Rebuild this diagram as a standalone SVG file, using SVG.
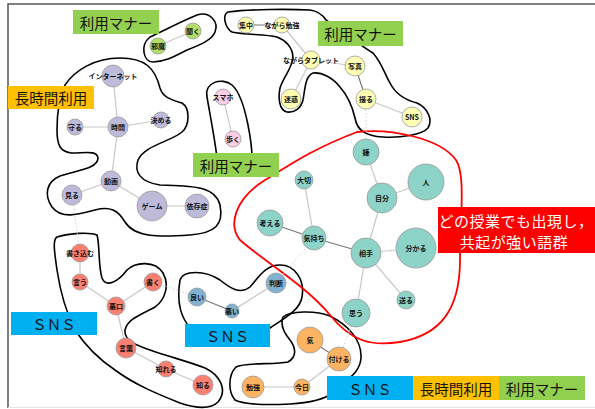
<svg xmlns="http://www.w3.org/2000/svg" width="595" height="409" viewBox="0 0 595 409">
<style>
.bg{fill:#fff}
.frame{stroke:#555;stroke-width:1.5;fill:none}
.outline{fill:none;stroke:#000;stroke-width:1.6}
.red{fill:none;stroke:#f00;stroke-width:1.8}
.e{stroke:#c8c8c8;stroke-width:1.2}
.ed{stroke:#777;stroke-width:1.2}
.dot{stroke:#d0d0d0;stroke-width:1;stroke-dasharray:1.5 2}
circle{stroke:#999;stroke-width:0.8}
.g{fill:#B3DE69}.p{fill:#BEBADA}.y{fill:#FFFFB3}.k{fill:#FCCDE5}.t{fill:#8DD3C7}.r{fill:#FB8072}.b{fill:#80B1D3}.o{fill:#FDB462}
.n{font-family:"Noto Sans CJK JP","Noto Sans",sans-serif;font-size:7px;font-weight:bold;fill:#111;text-anchor:middle;dominant-baseline:central}
.lab{font-family:"Noto Sans CJK JP","Noto Sans",sans-serif;font-size:14.5px;fill:#111;text-anchor:middle;dominant-baseline:central}
.wl{font-family:"Noto Sans CJK JP","Noto Sans",sans-serif;font-size:15px;fill:#fff;text-anchor:middle;dominant-baseline:central;letter-spacing:0.5px}
</style>
<rect class="bg" x="0" y="0" width="595" height="409"/>
<path class="frame" d="M8,408 L8,4 L595,4"/>
<line x1="8" y1="407.5" x2="595" y2="407.5" stroke="#e4e4e4" stroke-width="1"/>

<g id="outlines">
<path class="outline" d="M150,37 C165,30 180,22 197,15 C210,11 219,22 215,32 C212,40 200,45 187,50 C175,56 165,62 153,62 C143,62 140,45 150,37 Z"/>
<path class="outline" d="M65,85 C75,70 95,58 120,58 C145,58 155,68 160,88 C163,98 172,100 182,103 C190,108 190,125 182,132 C170,142 145,145 138,160 C134,172 140,182 160,185 C190,186 215,185 220,205 C224,225 215,233 190,235 C160,237 135,238 125,222 C118,210 110,206 95,210 C80,214 62,220 52,207 C44,195 46,182 60,176 C80,170 98,168 98,158 C97,150 85,153 72,153 C60,152 57,145 57,130 C57,115 58,100 65,85 Z"/>
<path class="outline" d="M228,12 C250,9 290,9 310,10 C318,11 322,14 326,20 C340,30 360,45 373,53 C382,63 385,75 390,83 C395,93 405,100 417,103 C428,108 433,120 428,128 C422,135 400,138 383,137 C365,136 357,130 355,118 C352,105 347,95 340,87 C333,78 322,72 313,73 C305,76 305,90 303,100 C301,108 295,113 287,112 C279,110 278,98 280,88 C283,78 292,68 293,58 C293,47 285,40 277,37 C265,34 245,35 232,32 C225,28 222,15 228,12 Z"/>
<path class="outline" d="M207,97 C204,82 222,77 232,85 C240,92 245,110 248,125 C250,135 252,145 252,158 L217,158 C215,140 211,120 207,97 Z"/>
<path class="outline" d="M57,237 C70,233 90,232 97,235 C100,245 98,265 102,278 C106,288 118,282 127,270 C135,262 155,260 163,273 C170,285 165,300 155,307 C143,314 128,318 125,330 C124,340 135,345 150,350 C170,357 190,362 205,368 C220,375 228,390 218,402 C210,410 195,408 180,403 C160,395 135,385 115,370 C97,358 85,345 75,330 C65,310 60,290 57,270 C55,255 52,240 57,237 Z"/>
<path class="outline" d="M180,280 C183,270 205,270 220,280 C230,288 240,295 250,287 C258,278 265,265 280,265 C295,265 305,280 302,297 C300,310 285,318 270,328 L190,328 C182,318 176,305 180,280 Z"/>
<path class="outline" d="M283,317 C290,311 315,310 330,316 C348,325 362,340 361,358 C360,370 352,376 345,382 L335,392 C325,399 310,403 290,404 C270,405 245,405 235,400 C228,392 228,375 236,367 C245,362 275,365 288,362 C297,357 296,348 290,340 C284,333 280,325 283,317 Z"/>
<path class="red" d="M357,132 C390,128 440,138 456,160 C466,175 460,220 460,260 C460,310 440,335 400,342 C370,347 350,340 330,315 C305,285 265,262 240,240 C228,225 235,200 262,182 C290,165 310,150 357,132 Z"/>
</g>

<g id="connectors">
<line class="dot" x1="72" y1="195" x2="80" y2="253"/>
<line class="dot" x1="153" y1="282" x2="197" y2="297"/>
<line class="dot" x1="314" y1="238" x2="276" y2="283"/>
<line class="dot" x1="356" y1="313" x2="339" y2="359"/>
<line class="dot" x1="366" y1="99" x2="366" y2="152"/>
<line class="e" x1="158" y1="46" x2="193" y2="31"/>
<line class="e" x1="113" y1="76" x2="118" y2="127"/>
<line class="e" x1="75" y1="127" x2="118" y2="127"/>
<line class="e" x1="118" y1="127" x2="161" y2="120"/>
<line class="e" x1="118" y1="127" x2="111" y2="181"/>
<line class="e" x1="111" y1="181" x2="72" y2="195"/>
<line class="e" x1="111" y1="181" x2="152" y2="206"/>
<line class="e" x1="152" y1="206" x2="197" y2="206"/>
<line class="ed" x1="246" y1="25" x2="282" y2="25"/>
<line class="e" x1="282" y1="25" x2="311" y2="60"/>
<line class="e" x1="311" y1="60" x2="291" y2="99"/>
<line class="e" x1="311" y1="60" x2="355" y2="66"/>
<line class="ed" x1="355" y1="66" x2="366" y2="99"/>
<line class="e" x1="366" y1="99" x2="412" y2="117"/>
<line class="e" x1="223" y1="97" x2="233" y2="139"/>
<line class="e" x1="366" y1="152" x2="382" y2="198"/>
<line class="e" x1="382" y1="198" x2="426" y2="182"/>
<line class="e" x1="382" y1="198" x2="366" y2="253"/>
<line class="e" x1="304" y1="180" x2="314" y2="238"/>
<line class="ed" x1="270" y1="223" x2="314" y2="238"/>
<line class="ed" x1="314" y1="238" x2="366" y2="253"/>
<line class="e" x1="366" y1="253" x2="416" y2="248"/>
<line class="e" x1="366" y1="253" x2="406" y2="300"/>
<line class="e" x1="366" y1="253" x2="356" y2="313"/>
<line class="e" x1="80" y1="253" x2="80" y2="282"/>
<line class="e" x1="80" y1="282" x2="116" y2="306"/>
<line class="e" x1="116" y1="306" x2="153" y2="282"/>
<line class="e" x1="116" y1="306" x2="126" y2="348"/>
<line class="e" x1="126" y1="348" x2="166" y2="369"/>
<line class="e" x1="166" y1="369" x2="203" y2="385"/>
<line class="ed" x1="197" y1="297" x2="232" y2="311"/>
<line class="e" x1="232" y1="311" x2="276" y2="283"/>
<line class="ed" x1="310" y1="340" x2="339" y2="359"/>
<line class="e" x1="339" y1="359" x2="302" y2="387"/>
<line class="e" x1="302" y1="387" x2="253" y2="387"/>
</g>

<g id="n-jama"><circle class="g" cx="158" cy="46" r="8"/><text class="n" x="158" y="46">邪魔</text></g>
<g id="n-kiku"><circle class="g" cx="193" cy="31" r="8"/><text class="n" x="193" y="31">聞く</text></g>

<g id="n-internet"><circle class="p" cx="113" cy="76" r="11"/><text class="n" x="113" y="76">インターネット</text></g>
<g id="n-mamoru"><circle class="p" cx="75" cy="127" r="8"/><text class="n" x="75" y="127">守る</text></g>
<g id="n-jikan"><circle class="p" cx="118" cy="127" r="10"/><text class="n" x="118" y="127">時間</text></g>
<g id="n-kimeru"><circle class="p" cx="161" cy="120" r="8"/><text class="n" x="161" y="120">決める</text></g>
<g id="n-douga"><circle class="p" cx="111" cy="181" r="10"/><text class="n" x="111" y="181">動画</text></g>
<g id="n-miru"><circle class="p" cx="72" cy="195" r="10"/><text class="n" x="72" y="195">見る</text></g>
<g id="n-game"><circle class="p" cx="152" cy="206" r="15"/><text class="n" x="152" y="206">ゲーム</text></g>
<g id="n-izon"><circle class="p" cx="197" cy="206" r="12"/><text class="n" x="197" y="206">依存症</text></g>

<g id="n-shuchu"><circle class="y" cx="246" cy="25" r="8"/><text class="n" x="246" y="25">集中</text></g>
<g id="n-nagarabenkyo"><circle class="y" cx="282" cy="25" r="8"/><text class="n" x="282" y="25">ながら勉強</text></g>
<g id="n-nagaratablet"><circle class="y" cx="311" cy="60" r="9"/><text class="n" x="311" y="60">ながらタブレット</text></g>
<g id="n-shashin"><circle class="y" cx="355" cy="66" r="10"/><text class="n" x="355" y="66">写真</text></g>
<g id="n-meiwaku"><circle class="y" cx="291" cy="99" r="10"/><text class="n" x="291" y="99">迷惑</text></g>
<g id="n-toru"><circle class="y" cx="366" cy="99" r="10"/><text class="n" x="366" y="99">撮る</text></g>
<g id="n-sns"><circle class="y" cx="412" cy="117" r="10"/><text class="n" x="412" y="117">SNS</text></g>

<g id="n-sumaho"><circle class="k" cx="223" cy="97" r="8"/><text class="n" x="223" y="97">スマホ</text></g>
<g id="n-aruku"><circle class="k" cx="233" cy="139" r="8"/><text class="n" x="233" y="139">歩く</text></g>

<g id="n-iya"><circle class="t" cx="366" cy="152" r="13"/><text class="n" x="366" y="152">嫌</text></g>
<g id="n-hito"><circle class="t" cx="426" cy="182" r="18"/><text class="n" x="426" y="182">人</text></g>
<g id="n-jibun"><circle class="t" cx="382" cy="198" r="15"/><text class="n" x="382" y="198">自分</text></g>
<g id="n-taisetsu"><circle class="t" cx="304" cy="180" r="9"/><text class="n" x="304" y="180">大切</text></g>
<g id="n-kangaeru"><circle class="t" cx="270" cy="223" r="13"/><text class="n" x="270" y="223">考える</text></g>
<g id="n-kimochi"><circle class="t" cx="314" cy="238" r="12"/><text class="n" x="314" y="238">気持ち</text></g>
<g id="n-aite"><circle class="t" cx="366" cy="253" r="15"/><text class="n" x="366" y="253">相手</text></g>
<g id="n-wakaru"><circle class="t" cx="416" cy="248" r="20"/><text class="n" x="416" y="248">分かる</text></g>
<g id="n-okuru"><circle class="t" cx="406" cy="300" r="9"/><text class="n" x="406" y="300">送る</text></g>
<g id="n-omou"><circle class="t" cx="356" cy="313" r="14"/><text class="n" x="356" y="313">思う</text></g>

<g id="n-kakikomu"><circle class="r" cx="80" cy="253" r="9"/><text class="n" x="80" y="253">書き込む</text></g>
<g id="n-iu"><circle class="r" cx="80" cy="282" r="8"/><text class="n" x="80" y="282">言う</text></g>
<g id="n-kaku"><circle class="r" cx="153" cy="282" r="9"/><text class="n" x="153" y="282">書く</text></g>
<g id="n-warukuchi"><circle class="r" cx="116" cy="306" r="9"/><text class="n" x="116" y="306">悪口</text></g>
<g id="n-kotoba"><circle class="r" cx="126" cy="348" r="10"/><text class="n" x="126" y="348">言葉</text></g>
<g id="n-shireru"><circle class="r" cx="166" cy="369" r="8"/><text class="n" x="166" y="369">知れる</text></g>
<g id="n-shiru"><circle class="r" cx="203" cy="385" r="10"/><text class="n" x="203" y="385">知る</text></g>

<g id="n-yoi"><circle class="b" cx="197" cy="297" r="9"/><text class="n" x="197" y="297">良い</text></g>
<g id="n-warui"><circle class="b" cx="232" cy="311" r="7"/><text class="n" x="232" y="311">悪い</text></g>
<g id="n-handan"><circle class="b" cx="276" cy="283" r="10"/><text class="n" x="276" y="283">判断</text></g>

<g id="n-ki"><circle class="o" cx="310" cy="340" r="13"/><text class="n" x="310" y="340">気</text></g>
<g id="n-tsukeru"><circle class="o" cx="339" cy="359" r="12"/><text class="n" x="339" y="359">付ける</text></g>
<g id="n-benkyo"><circle class="o" cx="253" cy="387" r="11"/><text class="n" x="253" y="387">勉強</text></g>
<g id="n-kyou"><circle class="o" cx="302" cy="387" r="8"/><text class="n" x="302" y="387">今日</text></g>

<g id="labels">
<g id="l-manner1"><rect x="73" y="10" width="86" height="24" fill="#92D050"/><text class="lab" x="116" y="22">利用マナー</text></g>
<g id="l-long1"><rect x="8" y="86" width="86" height="23" fill="#FFC000"/><text class="lab" x="51" y="97.5">長時間利用</text></g>
<g id="l-manner2"><rect x="318" y="21" width="85" height="25" fill="#92D050"/><text class="lab" x="360.5" y="33.5">利用マナー</text></g>
<g id="l-manner3"><rect x="193" y="153" width="86" height="24" fill="#92D050"/><text class="lab" x="236" y="165">利用マナー</text></g>
<g id="l-red"><rect x="438" y="207" width="157" height="46" fill="#FF0000"/><text class="wl" x="516" y="220">どの授業でも出現し，</text><text class="wl" x="514" y="241">共起が強い語群</text></g>
<g id="l-sns1"><rect x="11" y="312" width="86" height="23" fill="#00B0F0"/><text class="lab" x="54" y="323.5">ＳＮＳ</text></g>
<g id="l-sns2"><rect x="185" y="324" width="85" height="23" fill="#00B0F0"/><text class="lab" x="227.5" y="335.5">ＳＮＳ</text></g>
<g id="l-sns3"><rect x="327" y="376" width="86" height="24" fill="#00B0F0"/><text class="lab" x="370" y="388">ＳＮＳ</text></g>
<g id="l-long2"><rect x="413" y="376" width="86" height="24" fill="#FFC000"/><text class="lab" x="456" y="388">長時間利用</text></g>
<g id="l-manner4"><rect x="499" y="376" width="86" height="24" fill="#92D050"/><text class="lab" x="542" y="388">利用マナー</text></g>
</g>
</svg>
